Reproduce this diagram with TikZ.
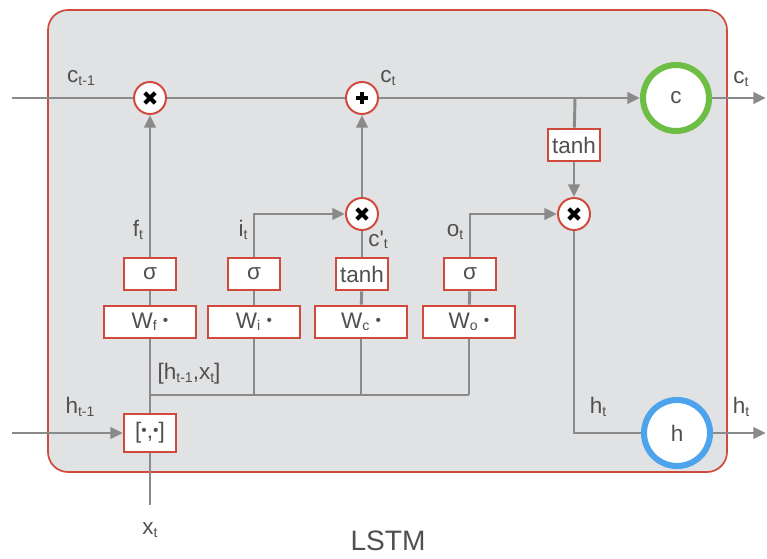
\documentclass[tikz,border=0pt]{standalone}
\usepackage{fontspec}
\setmainfont{Liberation Sans}
\usetikzlibrary{arrows.meta}
\definecolor{cellgray}{HTML}{E1E2E4}
\definecolor{cellred}{HTML}{CF4A3C}
\definecolor{wiregray}{HTML}{8A8A8A}
\definecolor{textgray}{HTML}{505050}
\definecolor{stategreen}{HTML}{6DBE45}
\definecolor{stateblue}{HTML}{4DA3EC}
\newcommand{\ix}[1]{{\fontsize{10}{10}\selectfont\raisebox{-0.3ex}{#1}}}
\newcommand{\dotop}{{\fontsize{11}{11}\selectfont\raisebox{0.4ex}{•}}}
\begin{document}
\begin{tikzpicture}[x=0.025cm, y=-0.025cm, >={Triangle[length=9pt,width=8pt]},
		font=\fontsize{16}{18}\selectfont, text=textgray,
		wire/.style={draw=wiregray, line width=2.1pt},
		gate/.style={draw=cellred, fill=white, line width=1.4pt, inner sep=1pt,
			minimum width=1.3cm, minimum height=0.82cm},
		weight/.style={gate, minimum width=2.3cm},
		op/.style={circle, draw=cellred, fill=white, line width=1.4pt,
			minimum size=0.8cm, inner sep=0pt},
		times/.style={op, path picture={\draw[black, line width=3pt]
			(path picture bounding box.center) +(-0.13cm,-0.13cm) -- +(0.13cm,0.13cm)
			(path picture bounding box.center) +(-0.13cm,0.13cm) -- +(0.13cm,-0.13cm);}},
		plus/.style={op, path picture={\draw[black, line width=3pt]
			(path picture bounding box.center) +(-0.15cm,0) -- +(0.15cm,0)
			(path picture bounding box.center) +(0,-0.15cm) -- +(0,0.15cm);}},
		state/.style={circle, fill=white, line width=4.3pt, minimum size=1.65cm, inner sep=0pt}]
		\useasboundingbox (0,0) rectangle (767,558);
		% cell
		\draw[draw=cellred, fill=cellgray, line width=1.2pt, rounded corners=0.5cm] (48,10) rectangle (727,472);
		% cell state line
		\coordinate (cin) at (12,98);
		\coordinate (cout) at (766,98);
		\coordinate (br) at (575,98);
		\node[times] (mf) at (150,98) {};
		\node[plus] (pa) at (362,98) {};
		\node[state, draw=stategreen] (cs) at (676,98) {c};
		\node[gate] (tb) at (574,145) {tanh};
		\node[times] (mo) at (574,214) {};
		\node[times] (mi) at (362,214) {};
		% gates
		\node[gate] (sf) at (150,274) {σ};
		\node[gate] (si) at (254,274) {σ};
		\node[gate] (tc) at (362,274) {tanh};
		\node[gate] (so) at (470,274) {σ};
		\node[weight] (wf) at (150,322) {W\ix{f} \dotop};
		\node[weight] (wi) at (254,322) {W\ix{i} \dotop};
		\node[weight] (wc) at (361,322) {W\ix{c} \dotop};
		\node[weight] (wo) at (469,322) {W\ix{o} \dotop};
		% input and hidden state
		\coordinate (hin) at (12,433);
		\coordinate (hout) at (766,433);
		\coordinate (xin) at (150,505);
		\coordinate (bus) at (150,395);
		\node[gate, minimum width=1.3cm, minimum height=0.95cm] (cat) at (150,433) {[\dotop,\dotop]};
		\node[state, draw=stateblue] (hs) at (677,433) {h};
		% wires
		\draw[wire] (cin) -- (mf) -- (pa);
		\draw[wire,->] (pa) -- (cs);
		\draw[wire,->] (cs) -- (cout);
		\draw[wire] (br) -- (tb);
		\draw[wire,->] (tb) -- (mo);
		\draw[wire] (mo) |- (hs);
		\draw[wire,->] (hs) -- (hout);
		\draw[wire,->] (hin) -- (cat);
		\draw[wire] (cat) -- (xin);
		\draw[wire] (cat) -- (wf);
		\draw[wire] (bus) -- (wo |- bus);
		\foreach \w in {wi,wc,wo}
			\draw[wire] (\w) -- (\w |- bus);
		\foreach \w/\s in {wf/sf,wi/si,wc/tc,wo/so}
			\draw[wire] (\w) -- (\s);
		\draw[wire,->] (sf) -- (mf);
		\draw[wire,->] (si) |- (mi);
		\draw[wire] (tc) -- (mi);
		\draw[wire,->] (mi) -- (pa);
		\draw[wire,->] (so) |- (mo);
		% labels
		\node (lcprev) at (81,78) {c\ix{t-1}};
		\node (lcmid) at (388,78) {c\ix{t}};
		\node (lcout) at (741,79) {c\ix{t}};
		\node (lf) at (138,230) {f\ix{t}};
		\node (li) at (243,230) {i\ix{t}};
		\node (lcc) at (378,240) {c\textquotesingle\ix{t}};
		\node (lo) at (455,232) {o\ix{t}};
		\node (lcat) at (189,374) {[h\ix{t-1},x\ix{t}]};
		\node (lhprev) at (80,407) {h\ix{t-1}};
		\node (lh) at (598,407) {h\ix{t}};
		\node (lhout) at (741,407) {h\ix{t}};
		\node (lx) at (150,530) {x\ix{t}};
		\node (title) at (388,541) {\fontsize{20}{22}\selectfont LSTM};
	\end{tikzpicture}
\end{document}
